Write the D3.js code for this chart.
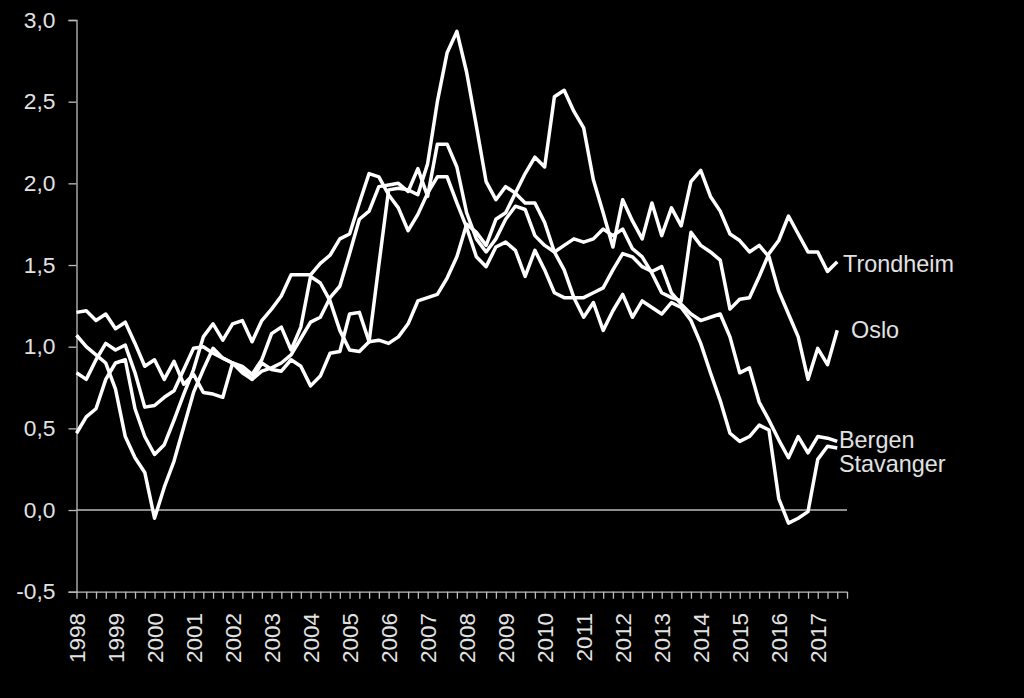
<!DOCTYPE html>
<html><head><meta charset="utf-8">
<script src="https://cdn.jsdelivr.net/npm/d3@7"></script>
<style>html,body{margin:0;padding:0;background:#000;}svg{display:block;}</style>
</head><body>
<svg id="chart" width="1024" height="698"></svg>
<script>
// Categories: quarters 1998Q1 .. 2017Q4
const years = d3.range(1998, 2018).map(String);
const categories = years.flatMap(y => ["K1","K2","K3","K4"].map(q => y + q));
const yTicks = [-0.5, 0, 0.5, 1.0, 1.5, 2.0, 2.5, 3.0];

const trondheim = [1.21,1.22,1.16,1.2,1.11,1.15,1.02,0.88,0.92,0.80,0.91,0.77,
  0.83,0.72,0.71,0.69,0.90,0.84,0.80,0.85,0.87,0.90,0.95,1.05,1.15,
  1.18,1.30,1.37,1.57,1.78,1.83,1.98,1.99,2.0,1.95,2.09,1.92,2.24,2.24,
  2.1,1.82,1.66,1.58,1.66,1.78,1.86,1.84,1.68,1.62,1.58,1.62,1.66,1.64,
  1.66,1.72,1.68,1.72,1.60,1.55,1.45,1.33,1.30,1.28,1.70,1.62,1.58,1.53,
  1.23,1.29,1.30,1.43,1.57,1.65,1.80,1.69,1.58,1.58,1.46,1.52];
const oslo = [0.84,0.80,0.92,1.02,0.98,1.01,0.84,0.63,0.64,0.69,0.73,0.86,0.99,1.0,
  0.96,0.93,0.90,0.86,0.80,0.90,0.86,0.85,0.92,0.88,0.76,
  0.82,0.96,0.97,1.2,1.21,1.03,1.04,1.02,1.06,1.14,1.28,1.30,1.32,1.42,1.55,1.75,
  1.70,1.62,1.78,1.82,1.94,2.06,2.16,2.10,2.53,2.57,2.44,2.34,2.02,1.82,1.61,
  1.90,1.77,1.66,1.88,1.68,1.85,1.74,2.01,2.08,1.92,1.83,
  1.69,1.65,1.58,1.62,1.55,1.34,1.20,1.06,0.80,0.99,0.89,1.10];
const bergen = [0.47,0.57,0.62,0.80,0.9,0.92,0.62,0.45,0.34,0.40,0.55,0.71,0.86,
  1.06,1.14,1.04,1.14,1.16,1.03,1.16,1.23,1.31,1.44,1.44,1.44,
  1.51,1.56,1.66,1.69,1.88,2.06,2.04,1.93,1.85,1.71,1.81,1.94,2.04,2.04,
  1.88,1.73,1.55,1.49,1.61,1.64,1.59,1.43,1.59,1.47,1.33,1.30,1.30,1.30,
  1.33,1.36,1.47,1.57,1.55,1.49,1.46,1.49,1.33,1.26,1.20,1.16,1.18,1.20,
  1.06,0.84,0.87,0.66,0.55,0.43,0.32,0.45,0.35,0.45,0.44,0.42];
const stavanger = [1.07,1.0,0.95,0.9,0.74,0.45,0.32,0.23,-0.05,0.14,0.30,0.51,0.72,0.86,
  0.99,0.93,0.90,0.88,0.83,0.92,1.08,1.12,0.98,1.12,1.43,
  1.39,1.28,1.10,0.98,0.97,1.03,1.50,1.96,1.97,1.96,1.93,2.12,2.50,2.80,2.93,
  2.68,2.35,2.01,1.90,1.98,1.94,1.88,1.88,1.76,1.58,1.47,1.30,1.18,
  1.27,1.10,1.22,1.32,1.18,1.28,1.24,1.20,1.27,1.24,1.16,1.02,0.84,0.67,
  0.47,0.42,0.45,0.52,0.49,0.07,-0.08,-0.05,-0.01,0.31,0.39,0.38];

const seriesNames = ["Trondheim","Oslo","Bergen","Stavanger"];
const seriesValues = [trondheim, oslo, bergen, stavanger];

const svg = d3.select("#chart");
svg.append("rect").attr("width",1024).attr("height",698).attr("fill","#000");

const x = d3.scalePoint().domain(categories).range([76.5, 847]);
const y = d3.scaleLinear().domain([-0.5, 3.0]).range([591.7, 20]);

const axisColor = "#bdbdbd";
const textColor = "#e2e2e2";
const fontFam = "'Liberation Sans', Arial, sans-serif";

// Y axis
const yAxis = d3.axisLeft(y).tickValues(yTicks)
  .tickFormat(d => d3.format(".1f")(d).replace(".", ",").replace("\u2212", "-"))
  .tickSize(8).tickPadding(13);
const gy = svg.append("g").attr("transform","translate(76.5,0)").call(yAxis);
gy.select(".domain").attr("stroke", axisColor).attr("stroke-width",1.3);
gy.selectAll(".tick line").attr("stroke", axisColor).attr("stroke-width",1.3);
gy.selectAll(".tick text").attr("fill", textColor).attr("font-size","22.8px").attr("font-family",fontFam);

// X axis
const xAxis = d3.axisBottom(x).tickSize(7).tickFormat(() => "");
const gx = svg.append("g").attr("transform","translate(0,591.7)").call(xAxis);
gx.select(".domain").attr("stroke", axisColor).attr("stroke-width",1.3).attr("d","M76.5,0.5H847");
gx.selectAll(".tick line").attr("stroke", axisColor).attr("stroke-width",1.3);

svg.append("g").selectAll("text").data(years).join("text")
  .attr("transform", d => `translate(${x(d + "K1")},613) rotate(-90)`)
  .attr("text-anchor","end").attr("dy","0.36em")
  .attr("fill", textColor).attr("font-size","22.5px").attr("font-family",fontFam)
  .text(d => d);

// zero line
svg.append("line").attr("x1", 76.5).attr("x2", 847).attr("y1", y(0)).attr("y2", y(0))
  .attr("stroke", axisColor).attr("stroke-width",1.5);

// lines
const line = d3.line().x((d,i) => x(categories[i])).y(d => y(d));
svg.append("g").selectAll("path").data(seriesValues).join("path")
  .attr("d", d => line(d)).attr("fill","none").attr("stroke","#fff")
  .attr("stroke-width",3.5).attr("stroke-linejoin","round");

// series labels
const labelPos = [
  {name:"Trondheim", x:843, y:272},
  {name:"Oslo", x:851, y:338},
  {name:"Bergen", x:839, y:448},
  {name:"Stavanger", x:839, y:472}
];
svg.append("g").selectAll("text").data(labelPos).join("text")
  .attr("x", d => d.x).attr("y", d => d.y)
  .attr("fill", textColor).attr("font-size","23.4px").attr("font-family",fontFam)
  .text(d => d.name);
</script>
</body></html>
